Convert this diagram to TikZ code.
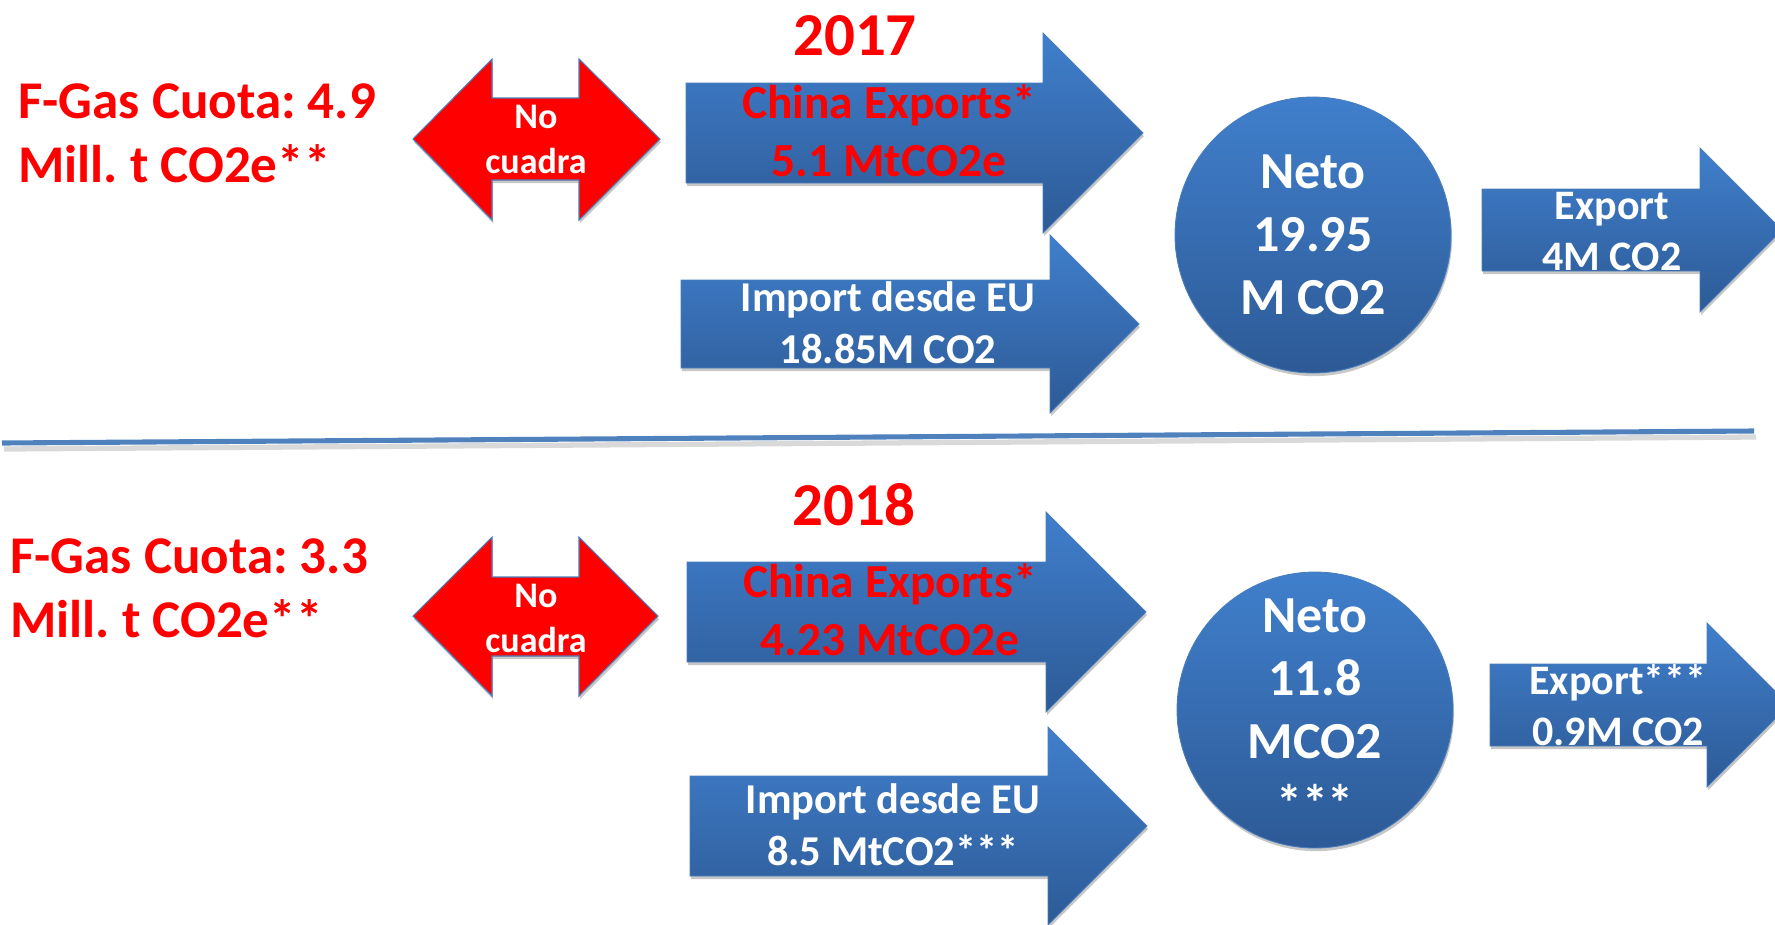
\documentclass[tikz,border=0pt]{standalone}
\usepackage{fontspec}
\setmainfont{Carlito}
\usetikzlibrary{calc,shadows}
\frenchspacing

\definecolor{arrowtop}{RGB}{64,127,204}
\definecolor{arrowbot}{RGB}{45,90,150}
\definecolor{arrowline}{RGB}{74,126,187}
\definecolor{sepline}{RGB}{79,129,189}
\definecolor{alertred}{RGB}{255,0,0}

% fat arrow: style, left x, head x, centre y, half shaft, half head
\newcommand{\blockarrow}[6]{%
  \path[#1] (#2,#4-#5) -- (#3,#4-#5) -- (#3,#4-#6) -- (#3+#6,#4)
    -- (#3,#4+#6) -- (#3,#4+#5) -- (#2,#4+#5) -- cycle;}

\begin{document}
\begin{tikzpicture}[
    x=0.02cm, y=-0.02cm,
    shadowed/.style={drop shadow={shadow xshift=0.6pt, shadow yshift=-1.8pt,
        opacity=0.22, fill=black}},
    bluearrow/.style={draw=arrowline, line width=0.5pt, top color=arrowtop,
        bottom color=arrowbot, shadowed},
    redarrow/.style={draw=arrowline, line width=0.6pt, fill=alertred, shadowed},
    neto/.style={circle, draw=arrowline, line width=0.5pt, top color=arrowtop,
        bottom color=arrowbot, shadowed, minimum size=5.52cm, inner sep=0pt,
        text=white, align=center,
        font=\fontsize{29.6}{35.9}\selectfont\bfseries},
    quota/.style={anchor=base west, align=left, text=alertred, inner sep=0pt,
        font=\fontsize{30.2}{36.4}\selectfont\bfseries},
    year/.style={anchor=base, text=alertred, inner sep=0pt,
        font=\fontsize{34.7}{40}\selectfont\bfseries},
    mismatch/.style={anchor=base, align=center, text=white, inner sep=0pt,
        font=\fontsize{20.5}{25.6}\selectfont\bfseries},
    china/.style={anchor=base, align=center, text=alertred, inner sep=0pt,
        font=\fontsize{27}{33}\selectfont\bfseries},
    import/.style={anchor=base, align=center, text=white, inner sep=0pt,
        font=\fontsize{24.2}{29.3}\selectfont\bfseries},
    export/.style={anchor=base, align=center, text=white, inner sep=0pt,
        font=\fontsize{23.9}{28.5}\selectfont\bfseries}
]
\useasboundingbox (0,0) rectangle (1775,924);
\clip (0,0) rectangle (1775,924);

% 2017 (top half)
\path[redarrow] (413,139) -- (492,59) -- (492,98) -- (579,98) -- (579,59)
  -- (660,139) -- (579,220) -- (579,180) -- (492,180) -- (492,220) -- cycle;
\blockarrow{bluearrow}{686}{1043}{133}{50}{100}
\blockarrow{bluearrow}{681}{1050}{324}{44}{89}
\blockarrow{bluearrow}{1482}{1700}{230}{41}{82}

\node[year] (year17) at (855,55) {2017};
\node[quota] (quota17) at (18,182) {F-Gas Cuota: 4.9\\Mill. t CO2e**};
\node[mismatch] (mismatch17) at (536,173) {No\\cuadra};
\node[china] (china17) at (889,176) {China Exports*\\5.1 MtCO2e};
\node[import] (import17) at (888,363) {Import desde EU\\18.85M CO2};
\node[neto] (neto17) at (1313,235) {Neto\\19.95\\M CO2};
\node[export] (export17) at (1612,270) {Export\\4M CO2};

% Separator
\coordinate (sepL) at (2,443);
\coordinate (sepR) at (1754,431);
\draw[black, opacity=0.15, line width=3pt] ($(sepL)+(2,6)$) -- ($(sepR)+(2,6)$);
\draw[sepline, line width=2.9pt] (sepL) -- (sepR);

% 2018 (bottom half)
\path[redarrow] (413,616) -- (492,537) -- (492,577) -- (579,577) -- (579,537)
  -- (658,616) -- (579,696) -- (579,656) -- (492,656) -- (492,696) -- cycle;
\blockarrow{bluearrow}{687}{1046}{612}{50}{100}
\blockarrow{bluearrow}{690}{1048}{826}{50}{99}
\blockarrow{bluearrow}{1490}{1707}{705}{41}{82}

\node[year] (year18) at (854,525) {2018};
\node[quota] (quota18) at (10,637) {F-Gas Cuota: 3.3\\Mill. t CO2e**};
\node[mismatch] (mismatch18) at (536,652) {No\\cuadra};
\node[china] (china18) at (890,655) {China Exports*\\4.23 MtCO2e};
\node[import] (import18) at (893,865) {Import desde EU\\8.5 MtCO2***};
\node[neto] (neto18) at (1315,710) {Neto\\11.8\\MCO2\\***};
\node[export] (export18) at (1618,745) {Export***\\0.9M CO2};

\end{tikzpicture}
\end{document}
